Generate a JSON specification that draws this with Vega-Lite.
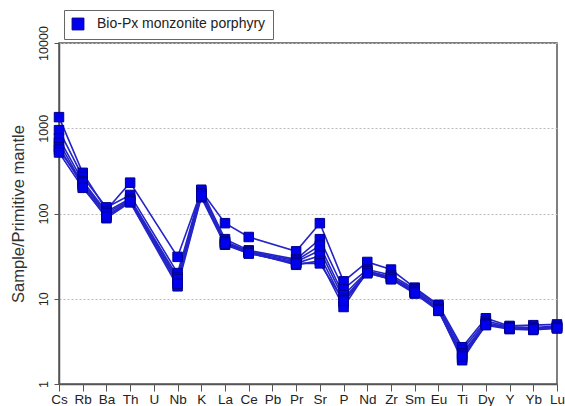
{
  "$schema": "https://vega.github.io/schema/vega-lite/v6.json",
  "width": 498,
  "height": 341,
  "autosize": {"type": "none"},
  "padding": {"left": 59, "top": 43, "right": 8, "bottom": 22},
  "background": "white",
  "config": {
    "font": "Liberation Sans",
    "view": {"stroke": "#555", "strokeWidth": 1.5},
    "axis": {"domainColor": "#555", "domainWidth": 1.5, "tickColor": "#555", "labelColor": "#222", "titleColor": "#333"},
    "legend": {
      "orient": "none", "legendX": 5, "legendY": -33,
      "strokeColor": "#666", "strokeWidth": 1, "padding": 7,
      "labelFontSize": 14, "labelColor": "#222", "labelLimit": 400, "symbolType": "square",
      "symbolSize": 140, "symbolFillColor": "#0000ee", "symbolStrokeColor": "#00008b", "symbolStrokeWidth": 1, "labelOffset": 12
    }
  },
  "datasets": {
    "d": [
      {"s":1,"e":"Cs","n":1,"v":1350},{"s":1,"e":"Rb","n":2,"v":300},{"s":1,"e":"Ba","n":3,"v":110},{"s":1,"e":"Th","n":4,"v":230},{"s":1,"e":"Nb","n":6,"v":31},{"s":1,"e":"K","n":7,"v":185},{"s":1,"e":"La","n":8,"v":77},{"s":1,"e":"Ce","n":9,"v":53},{"s":1,"e":"Pr","n":11,"v":36},{"s":1,"e":"Sr","n":12,"v":77},{"s":1,"e":"P","n":13,"v":16},{"s":1,"e":"Nd","n":14,"v":27},{"s":1,"e":"Zr","n":15,"v":22},{"s":1,"e":"Sm","n":16,"v":13.5},{"s":1,"e":"Eu","n":17,"v":8.5},{"s":1,"e":"Ti","n":18,"v":2.7},{"s":1,"e":"Dy","n":19,"v":5.9},{"s":1,"e":"Y","n":20,"v":4.8},{"s":1,"e":"Yb","n":21,"v":4.9},{"s":1,"e":"Lu","n":22,"v":5.0},
      {"s":2,"e":"Cs","n":1,"v":950},{"s":2,"e":"Rb","n":2,"v":270},{"s":2,"e":"Ba","n":3,"v":118},{"s":2,"e":"Th","n":4,"v":165},{"s":2,"e":"Nb","n":6,"v":20},{"s":2,"e":"K","n":7,"v":190},{"s":2,"e":"La","n":8,"v":50},{"s":2,"e":"Ce","n":9,"v":37},{"s":2,"e":"Pr","n":11,"v":29},{"s":2,"e":"Sr","n":12,"v":50},{"s":2,"e":"P","n":13,"v":13},{"s":2,"e":"Nd","n":14,"v":22},{"s":2,"e":"Zr","n":15,"v":19},{"s":2,"e":"Sm","n":16,"v":13},{"s":2,"e":"Eu","n":17,"v":8.2},{"s":2,"e":"Ti","n":18,"v":2.5},{"s":2,"e":"Dy","n":19,"v":5.5},{"s":2,"e":"Y","n":20,"v":4.7},{"s":2,"e":"Yb","n":21,"v":4.6},{"s":2,"e":"Lu","n":22,"v":4.8},
      {"s":3,"e":"Cs","n":1,"v":760},{"s":3,"e":"Rb","n":2,"v":240},{"s":3,"e":"Ba","n":3,"v":105},{"s":3,"e":"Th","n":4,"v":150},{"s":3,"e":"Nb","n":6,"v":18},{"s":3,"e":"K","n":7,"v":175},{"s":3,"e":"La","n":8,"v":47},{"s":3,"e":"Ce","n":9,"v":36},{"s":3,"e":"Pr","n":11,"v":28},{"s":3,"e":"Sr","n":12,"v":42},{"s":3,"e":"P","n":13,"v":11},{"s":3,"e":"Nd","n":14,"v":21},{"s":3,"e":"Zr","n":15,"v":18},{"s":3,"e":"Sm","n":16,"v":12.5},{"s":3,"e":"Eu","n":17,"v":7.8},{"s":3,"e":"Ti","n":18,"v":2.3},{"s":3,"e":"Dy","n":19,"v":5.2},{"s":3,"e":"Y","n":20,"v":4.6},{"s":3,"e":"Yb","n":21,"v":4.5},{"s":3,"e":"Lu","n":22,"v":4.7},
      {"s":4,"e":"Cs","n":1,"v":680},{"s":4,"e":"Rb","n":2,"v":220},{"s":4,"e":"Ba","n":3,"v":95},{"s":4,"e":"Th","n":4,"v":140},{"s":4,"e":"Nb","n":6,"v":16},{"s":4,"e":"K","n":7,"v":165},{"s":4,"e":"La","n":8,"v":45},{"s":4,"e":"Ce","n":9,"v":35},{"s":4,"e":"Pr","n":11,"v":27},{"s":4,"e":"Sr","n":12,"v":37},{"s":4,"e":"P","n":13,"v":10},{"s":4,"e":"Nd","n":14,"v":20.5},{"s":4,"e":"Zr","n":15,"v":17.5},{"s":4,"e":"Sm","n":16,"v":12},{"s":4,"e":"Eu","n":17,"v":7.5},{"s":4,"e":"Ti","n":18,"v":2.2},{"s":4,"e":"Dy","n":19,"v":5.0},{"s":4,"e":"Y","n":20,"v":4.5},{"s":4,"e":"Yb","n":21,"v":4.4},{"s":4,"e":"Lu","n":22,"v":4.6},
      {"s":5,"e":"Cs","n":1,"v":600},{"s":5,"e":"Rb","n":2,"v":210},{"s":5,"e":"Ba","n":3,"v":88},{"s":5,"e":"Th","n":4,"v":135},{"s":5,"e":"Nb","n":6,"v":14},{"s":5,"e":"K","n":7,"v":155},{"s":5,"e":"La","n":8,"v":43},{"s":5,"e":"Ce","n":9,"v":34},{"s":5,"e":"Pr","n":11,"v":26},{"s":5,"e":"Sr","n":12,"v":32},{"s":5,"e":"P","n":13,"v":9},{"s":5,"e":"Nd","n":14,"v":20},{"s":5,"e":"Zr","n":15,"v":17},{"s":5,"e":"Sm","n":16,"v":11.5},{"s":5,"e":"Eu","n":17,"v":7.2},{"s":5,"e":"Ti","n":18,"v":2.0},{"s":5,"e":"Dy","n":19,"v":4.9},{"s":5,"e":"Y","n":20,"v":4.4},{"s":5,"e":"Yb","n":21,"v":4.3},{"s":5,"e":"Lu","n":22,"v":4.5},
      {"s":6,"e":"Cs","n":1,"v":560},{"s":6,"e":"Rb","n":2,"v":230},{"s":6,"e":"Ba","n":3,"v":100},{"s":6,"e":"Th","n":4,"v":145},{"s":6,"e":"Nb","n":6,"v":17},{"s":6,"e":"K","n":7,"v":170},{"s":6,"e":"La","n":8,"v":46},{"s":6,"e":"Ce","n":9,"v":35},{"s":6,"e":"Pr","n":11,"v":25},{"s":6,"e":"Sr","n":12,"v":28},{"s":6,"e":"P","n":13,"v":8},{"s":6,"e":"Nd","n":14,"v":21},{"s":6,"e":"Zr","n":15,"v":18},{"s":6,"e":"Sm","n":16,"v":12},{"s":6,"e":"Eu","n":17,"v":7.5},{"s":6,"e":"Ti","n":18,"v":1.9},{"s":6,"e":"Dy","n":19,"v":5.1},{"s":6,"e":"Y","n":20,"v":4.6},{"s":6,"e":"Yb","n":21,"v":4.5},{"s":6,"e":"Lu","n":22,"v":4.6},
      {"s":7,"e":"Cs","n":1,"v":520},{"s":7,"e":"Rb","n":2,"v":200},{"s":7,"e":"Ba","n":3,"v":92},{"s":7,"e":"Th","n":4,"v":140},{"s":7,"e":"Nb","n":6,"v":15},{"s":7,"e":"K","n":7,"v":160},{"s":7,"e":"La","n":8,"v":44},{"s":7,"e":"Ce","n":9,"v":34},{"s":7,"e":"Pr","n":11,"v":26},{"s":7,"e":"Sr","n":12,"v":26},{"s":7,"e":"P","n":13,"v":9.5},{"s":7,"e":"Nd","n":14,"v":20},{"s":7,"e":"Zr","n":15,"v":17},{"s":7,"e":"Sm","n":16,"v":11.8},{"s":7,"e":"Eu","n":17,"v":7.3},{"s":7,"e":"Ti","n":18,"v":2.1},{"s":7,"e":"Dy","n":19,"v":4.95},{"s":7,"e":"Y","n":20,"v":4.5},{"s":7,"e":"Yb","n":21,"v":4.4},{"s":7,"e":"Lu","n":22,"v":4.5}
    ]
  },
  "data": {"name": "d"},
  "encoding": {
    "x": {
      "field": "e", "type": "ordinal",
      "scale": {"type": "point", "padding": 0, "domain": ["Cs","Rb","Ba","Th","U","Nb","K","La","Ce","Pb","Pr","Sr","P","Nd","Zr","Sm","Eu","Ti","Dy","Y","Yb","Lu"]},
      "axis": {"title": null, "labelAngle": 0, "labelFontSize": 13.5, "tickSize": 7, "labelPadding": 1, "grid": false}
    },
    "y": {
      "field": "v", "type": "quantitative",
      "scale": {"type": "log", "domain": [1, 10000], "nice": false},
      "axis": {
        "title": "Sample/Primitive mantle", "titleFontSize": 16.5, "titleFontWeight": "normal", "titlePadding": 11,
        "values": [1, 10, 100, 1000, 10000], "format": "d",
        "labelAngle": -90, "labelAlign": "center", "labelBaseline": "bottom", "labelFontSize": 12.5, "labelPadding": 4,
        "tickSize": 5, "grid": true, "gridColor": "#bbb", "gridDash": [2, 2], "gridWidth": 1
      }
    }
  },
  "layer": [
    {
      "mark": {"type": "line", "stroke": "#2424c8", "strokeWidth": 1.6},
      "encoding": {"detail": {"field": "s"}, "order": {"field": "n"}}
    },
    {
      "mark": {"type": "point", "shape": "square", "filled": true, "size": 90, "fill": "#0000ee", "stroke": "#00008b", "strokeWidth": 1, "opacity": 1},
      "encoding": {
        "color": {"datum": "Bio-Px monzonite porphyry", "type": "nominal", "scale": {"range": ["#0000ee"]}, "legend": {"title": null}}
      }
    }
  ]
}
